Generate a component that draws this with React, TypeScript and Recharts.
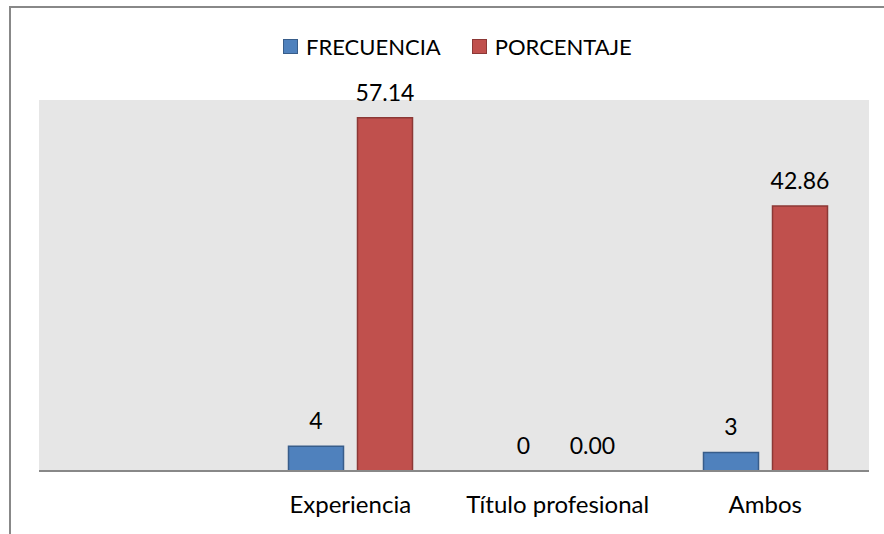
import React from "react";
import {
  BarChart,
  Bar,
  XAxis,
  YAxis,
  CartesianGrid,
  LabelList,
  Rectangle,
} from "recharts";

const categories = ["", "Experiencia", "Título profesional", "Ambos"];
const frecuencia = [null, 4, 0, 3];
const porcentaje = [null, 57.14, 0.0, 42.86];

const data = categories.map((name, i) => ({
  name,
  frecuencia: frecuencia[i],
  porcentaje: porcentaje[i],
}));

const FONT = "Lato, 'Open Sans', sans-serif";
const BLUE = "#4f81bd";
const RED = "#c0504d";

// zero bars keep a tiny height so their labels still get drawn, but no rect is shown
const zeroMin = (v: any) => (v === 0 ? 0.01 : 0);
const barShape = (props: any) =>
  props.height < 1 ? <g /> : <Rectangle {...props} />;

function LegendBox() {
  const item = (color: string, border: string, label: string) => (
    <div style={{ display: "flex", alignItems: "center", marginRight: 31 }}>
      <div
        style={{
          width: 13,
          height: 13,
          background: color,
          border: `1px solid ${border}`,
          marginRight: 8,
        }}
      />
      <span>{label}</span>
    </div>
  );
  return (
    <div
      style={{
        position: "absolute",
        top: 33,
        left: 283,
        display: "flex",
        fontFamily: FONT,
        fontSize: 22,
        color: "#000",
      }}
    >
      {item(BLUE, "#385d8a", "FRECUENCIA")}
      {item(RED, "#8c3836", "PORCENTAJE")}
    </div>
  );
}

export default function App() {
  return (
    <div
      style={{
        position: "absolute",
        top: 0,
        left: 0,
        width: 884,
        height: 534,
        background: "#fff",
        overflow: "hidden",
      }}
    >
      <div
        style={{
          position: "absolute",
          top: 6,
          left: 9,
          width: 900,
          height: 600,
          borderTop: "2px solid #888",
          borderLeft: "2px solid #888",
        }}
      />
      <LegendBox />
      <div style={{ position: "absolute", top: 0, left: 0 }}>
        <BarChart
          width={884}
          height={534}
          data={data}
          margin={{ top: 100, right: 15, bottom: 23, left: 39 }}
          barSize={55}
          barGap={14}
        >
          <CartesianGrid horizontal={false} vertical={false} fill="#e6e6e6" />
          <YAxis hide domain={[0, 60]} />
          <XAxis
            dataKey="name"
            height={40}
            tickLine={false}
            axisLine={{ stroke: "#888", strokeWidth: 2 }}
            tick={{ fontFamily: FONT, fontSize: 24, fill: "#000" }}
            tickMargin={19}
          />
          <Bar
            dataKey="frecuencia"
            fill={BLUE}
            stroke="#385d8a"
            strokeWidth={1.5}
            minPointSize={zeroMin}
            shape={barShape}
            isAnimationActive={false}
          >
            <LabelList
              dataKey="frecuencia"
              position="top"
              offset={17}
              formatter={(v: any) => (v == null ? "" : String(v))}
              style={{ fontFamily: FONT, fontSize: 23, fill: "#000" }}
            />
          </Bar>
          <Bar
            dataKey="porcentaje"
            fill={RED}
            stroke="#8c3836"
            strokeWidth={1.5}
            minPointSize={zeroMin}
            shape={barShape}
            isAnimationActive={false}
          >
            <LabelList
              dataKey="porcentaje"
              position="top"
              offset={17}
              formatter={(v: any) => (v == null ? "" : Number(v).toFixed(2))}
              style={{ fontFamily: FONT, fontSize: 23, fill: "#000" }}
            />
          </Bar>
        </BarChart>
      </div>
    </div>
  );
}
